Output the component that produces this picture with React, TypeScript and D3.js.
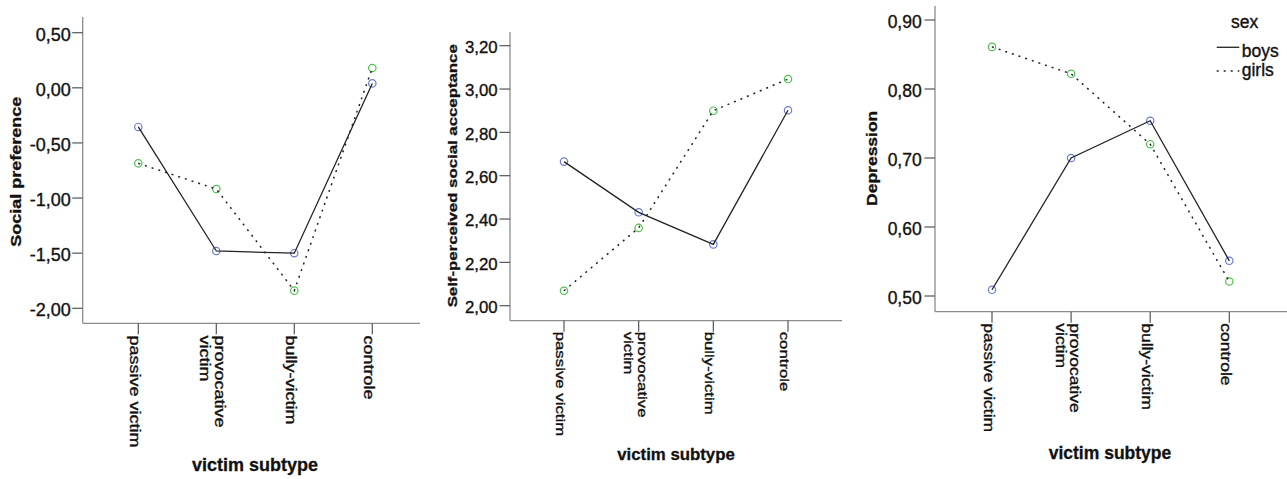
import React from "react";
import * as d3 from "d3";

const categories = ["passive victim", "provocative victim", "bully-victim", "controle"];
const sexes = ["boys", "girls"];

const socialBoys = [-0.355, -1.48, -1.5, 0.04];
const socialGirls = [-0.685, -0.918, -1.84, 0.18];
const acceptBoys = [2.665, 2.431, 2.283, 2.902];
const acceptGirls = [2.069, 2.359, 2.9, 3.046];
const depBoys = [0.509, 0.7, 0.754, 0.551];
const depGirls = [0.861, 0.822, 0.72, 0.521];

const socialTicks = [0.5, 0, -0.5, -1, -1.5, -2];
const acceptTicks = [2.0, 2.2, 2.4, 2.6, 2.8, 3.0, 3.2];
const depTicks = [0.5, 0.6, 0.7, 0.8, 0.9];

const FONT = "'Liberation Sans', Arial, Helvetica, sans-serif";
const BLUE = "#6a7bd2";
const GREEN = "#4cc24c";
const AXIS = "#8c8c8c";
const TICK = "#555";
const LINE = "#222";
const TXT = "#111";
const TS = 0.35;
const THIN = 0.79;

const fmt = (v: number) => {
  const s = Math.abs(v).toFixed(2).replace(".", ",");
  return (v < -1e-9 ? "-" : "") + s;
};

const wrap = (s: string) => (s.length > 14 ? s.split(" ") : [s]);

type PanelCfg = {
  title: string;
  boys: number[];
  girls: number[];
  ticks: number[];
  domain: [number, number];
  yRange: [number, number];
  xRange: [number, number];
  axisX: number;
  axisTop: number;
  axisY: number;
  axisRight: number;
  F: number;
  labelRight: number;
  titleX: number;
  titleY: number;
  xTitleX: number;
  xTitleY: number;
  xLabelTop: number;
};

const panels: PanelCfg[] = [
  {
    title: "Social preference",
    boys: socialBoys,
    girls: socialGirls,
    ticks: socialTicks,
    domain: [-2, 0.5],
    yRange: [308.3, 32.7],
    xRange: [138.3, 372.3],
    axisX: 82.7,
    axisTop: 17,
    axisY: 323.3,
    axisRight: 420,
    F: 18,
    labelRight: 70.7,
    titleX: 21,
    titleY: 171.7,
    xTitleX: 255,
    xTitleY: 470.5,
    xLabelTop: 335.5,
  },
  {
    title: "Self-perceived social acceptance",
    boys: acceptBoys,
    girls: acceptGirls,
    ticks: acceptTicks,
    domain: [2, 3.2],
    yRange: [305.7, 45.7],
    xRange: [564, 788],
    axisX: 510,
    axisTop: 32,
    axisY: 320.7,
    axisRight: 842,
    F: 16.8,
    labelRight: 497.7,
    titleX: 456.5,
    titleY: 175.8,
    xTitleX: 676,
    xTitleY: 460,
    xLabelTop: 331.7,
  },
  {
    title: "Depression",
    boys: depBoys,
    girls: depGirls,
    ticks: depTicks,
    domain: [0.5, 0.9],
    yRange: [296, 20],
    xRange: [992, 1229.3],
    axisX: 935,
    axisTop: 6,
    axisY: 311.7,
    axisRight: 1287,
    F: 17.5,
    labelRight: 921.7,
    titleX: 877,
    titleY: 158.3,
    xTitleX: 1110,
    xTitleY: 458.5,
    xLabelTop: 323.3,
  },
];

function Panel({ p }: { p: PanelCfg }) {
  const y = d3.scaleLinear().domain(p.domain).range(p.yRange);
  const x = d3.scalePoint<string>().domain(categories).range(p.xRange);
  const line = d3
    .line<number>()
    .x((_, i) => x(categories[i]) as number)
    .y((v) => y(v));
  const thin = p.F * THIN;
  const sx = 1 / THIN;
  return (
    <g>
      <line x1={p.axisX} x2={p.axisX} y1={p.axisTop} y2={p.axisY} stroke={AXIS} strokeWidth={1.3} />
      <line x1={p.axisX} x2={p.axisRight} y1={p.axisY} y2={p.axisY} stroke={AXIS} strokeWidth={1.3} />
      {p.ticks.map((t) => (
        <g key={t}>
          <line x1={p.axisX - 10.5} x2={p.axisX} y1={y(t)} y2={y(t)} stroke={TICK} strokeWidth={1.2} />
          <text
            x={p.labelRight}
            y={y(t) + 0.44 * p.F}
            textAnchor="end"
            fontSize={p.F}
            fontFamily={FONT}
            fill={TXT}
            stroke={TXT}
            strokeWidth={TS}
          >
            {fmt(t)}
          </text>
        </g>
      ))}
      {categories.map((c) => {
        const tx = x(c) as number;
        const lines = wrap(c);
        const n = lines.length;
        return (
          <g key={c}>
            <line x1={tx} x2={tx} y1={p.axisY} y2={p.axisY + 11} stroke={TICK} strokeWidth={1.2} />
            <g transform={`translate(${tx},${p.xLabelTop}) rotate(90) scale(${sx},1)`}>
              {lines.map((l, i) => (
                <text
                  key={l}
                  x={0}
                  y={0.47 * p.F + (i - (n - 1) / 2) * 0.82 * p.F}
                  fontSize={thin}
                  fontFamily={FONT}
                  fill={TXT}
                  stroke={TXT}
                  strokeWidth={TS}
                >
                  {l}
                </text>
              ))}
            </g>
          </g>
        );
      })}
      <g transform={`translate(${p.titleX},${p.titleY}) rotate(-90) scale(${sx},1)`}>
        <text
          x={0}
          y={0}
          textAnchor="middle"
          fontSize={thin}
          fontWeight="bold"
          fontFamily={FONT}
          fill={TXT}
          stroke={TXT}
          strokeWidth={0.3}
        >
          {p.title}
        </text>
      </g>
      <text
        x={p.xTitleX}
        y={p.xTitleY}
        textAnchor="middle"
        fontSize={p.F}
        fontWeight="bold"
        fontFamily={FONT}
        fill={TXT}
        stroke={TXT}
        strokeWidth={0.3}
      >
        victim subtype
      </text>
      {p.boys.map((v, i) => (
        <circle key={"b" + i} cx={x(categories[i])} cy={y(v)} r={3.7} fill="none" stroke={BLUE} strokeWidth={1.2} />
      ))}
      {p.girls.map((v, i) => (
        <circle key={"g" + i} cx={x(categories[i])} cy={y(v)} r={3.7} fill="none" stroke={GREEN} strokeWidth={1.2} />
      ))}
      <path d={line(p.boys) || ""} fill="none" stroke={LINE} strokeWidth={1.3} />
      <path d={line(p.girls) || ""} fill="none" stroke={LINE} strokeWidth={1.5} strokeDasharray="2,5" />
    </g>
  );
}

function Legend() {
  const F = 17.5;
  return (
    <g fontFamily={FONT} fontSize={F} fill={TXT}>
      <text x={1244.7} y={28.3} textAnchor="middle" stroke={TXT} strokeWidth={TS}>
        sex
      </text>
      <line x1={1216.7} x2={1239.3} y1={47.3} y2={47.3} stroke={LINE} strokeWidth={1.3} />
      <text x={1241.7} y={56.5} stroke={TXT} strokeWidth={TS}>{sexes[0]}</text>
      <line x1={1216.7} x2={1239.3} y1={71} y2={71} stroke={LINE} strokeWidth={1.5} strokeDasharray="2,5" />
      <text x={1241.7} y={75.5} stroke={TXT} strokeWidth={TS}>{sexes[1]}</text>
    </g>
  );
}

export default function App() {
  return (
    <svg width={1287} height={479} style={{ position: "absolute", left: 0, top: 0, background: "#fff" }}>
      <rect x={0} y={0} width={1287} height={479} fill="#fff" />
      {panels.map((p) => (
        <Panel key={p.title} p={p} />
      ))}
      <Legend />
    </svg>
  );
}
